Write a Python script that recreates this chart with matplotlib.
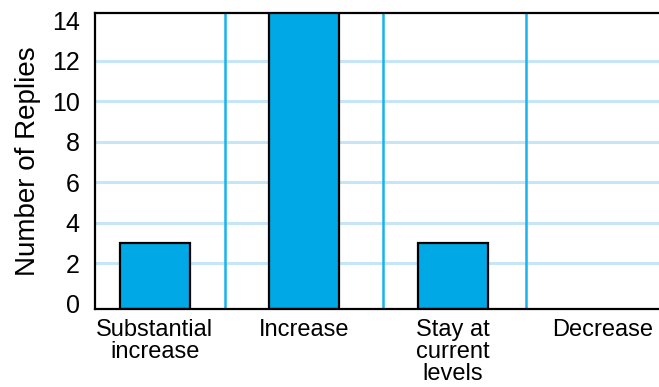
import matplotlib
matplotlib.use("Agg")
import matplotlib.pyplot as plt

plt.rcParams['font.family'] = ['Liberation Sans', 'DejaVu Sans']

categories = ["Substantial\nincrease", "Increase", "Stay at\ncurrent\nlevels", "Decrease"]
replies = [3, 14.4, 3, 0]
y_ticks = [0, 2, 4, 6, 8, 10, 12, 14]
grid_levels = [2, 4, 6, 8, 10, 12]
separators = [0.47, 1.53, 2.49]

bar_color = "#00A9E6"
sep_color = "#18B2EE"
grid_color = "#C6E6F8"

fig = plt.figure(figsize=(6.59, 3.87), dpi=100)
ax = fig.add_axes([95 / 659, 78 / 387, 1 - 95 / 659, (309 - 13) / 387])

y_floor = -0.27
x = list(range(len(categories)))
ax.set_xlim(-0.40, 3.38)
ax.set_ylim(y_floor, 14.35)

for g in grid_levels:
    ax.axhline(g, color=grid_color, lw=2.2, zorder=1)
for s in separators:
    ax.axvline(s, color=sep_color, lw=1.8, zorder=2)

# bars rise from the bottom edge of the plot; empty categories get no bar
shown = [(xi, v) for xi, v in zip(x, replies) if v > 0]
ax.bar([p[0] for p in shown], [p[1] - y_floor for p in shown], width=0.47,
       bottom=y_floor, color=bar_color, edgecolor="black", linewidth=1.6,
       zorder=3)

ax.set_xticks(x)
ax.set_xticklabels(categories, fontsize=17, linespacing=1.0, va="top")
ax.set_yticks(y_ticks)
ax.set_yticklabels([str(t) for t in y_ticks], fontsize=18)
ax.tick_params(axis="both", length=0)
ax.tick_params(axis="y", pad=11)
ax.tick_params(axis="x", pad=7)

ax.set_ylabel("Number of Replies", fontsize=20, labelpad=8)

for side in ["left", "bottom", "top"]:
    ax.spines[side].set_linewidth(1.6)
    ax.spines[side].set_color("black")
    ax.spines[side].set_zorder(4)
ax.spines["right"].set_visible(False)

fig.savefig("out.png", dpi=100)
